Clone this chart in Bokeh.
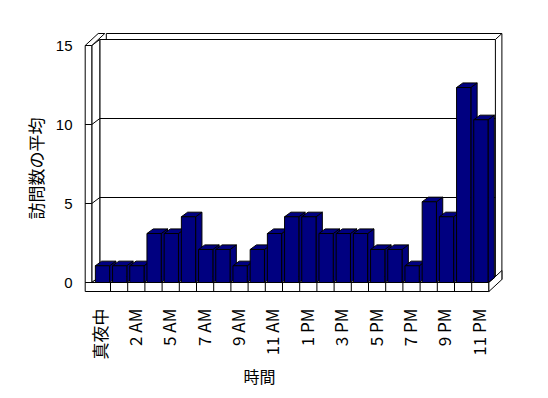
import math
from bokeh.plotting import figure
from bokeh.models import Range1d, FixedTicker, Title
from bokeh.embed import file_html
from bokeh.resources import INLINE

# ---------------- data ----------------
hours = ["真夜中", "1 AM", "2 AM", "3 AM", "5 AM", "6 AM", "7 AM", "8 AM", "9 AM",
         "10 AM", "11 AM", "正午", "1 PM", "2 PM", "3 PM", "4 PM", "5 PM", "6 PM",
         "7 PM", "8 PM", "9 PM", "10 PM", "11 PM"]
visits = [1.06, 1.06, 1.06, 3.1, 3.1, 4.16, 2.09, 2.09, 1.06, 2.09, 3.1, 4.16,
          4.16, 3.1, 3.1, 3.1, 2.09, 2.09, 1.06, 5.11, 4.16, 12.34, 10.3]
y_ticks = [0, 5, 10, 15]
y_max = 15
label_every = 2
x_title = "時間"
y_title = "訪問数の平均"

# ---------------- style / geometry (pixels) ----------------
FRAME_W, FRAME_H = 426, 265
PXC = 17.2          # px per category
PXV = 15.8          # px per value unit
X_OFF = 12.8        # frame left -> first category
Y_TOP = 252         # frame top -> value 0
NAVY = "#000080"

n = len(hours)
dx, dy = 6.5 / PXC, 6.0 / PXV          # wall depth
bdx, bdy = 6.3 / PXC, 4.6 / PXV        # bar depth
fb = -9.0 / PXV                        # floor bottom
xl, xr = -8.1 / PXC, -1.5 / PXC        # side wall front face
bl, br = 0.12, 0.95                    # bar front face inside category

p = figure(frame_width=FRAME_W, frame_height=FRAME_H,
           x_range=Range1d(-X_OFF / PXC, (FRAME_W - X_OFF) / PXC),
           y_range=Range1d(-(FRAME_H - Y_TOP) / PXV, Y_TOP / PXV),
           output_backend="svg", toolbar_location=None,
           min_border_left=80, min_border_right=32,
           min_border_top=30, min_border_bottom=95)
p.grid.visible = False
p.outline_line_color = None
p.background_fill_color = "white"
p.border_fill_color = "white"

W = dict(fill_color="white", line_color="black", line_width=1)

# back wall (outer, inner)
p.patches([[2 * dx, n + 2 * dx, n + 2 * dx, 2 * dx]],
          [[fb + 2 * dy, fb + 2 * dy, y_max + 2 * dy, y_max + 2 * dy]], **W)
p.patches([[dx, n + dx, n + dx, dx]],
          [[dy, dy, y_max + dy, y_max + dy]], **W)
p.multi_line([[n + dx, n + 2 * dx]], [[y_max + dy, y_max + 2 * dy]],
             line_color="black", line_width=1)
# side wall inner face and top face
p.patches([[xr, xr, dx, dx]], [[0, y_max, y_max + dy, dy]], **W)
p.patches([[xl, xr, xr + 2 * dx, xl + 2 * dx]],
          [[y_max, y_max, y_max + 2 * dy, y_max + 2 * dy]], **W)
# floor top
p.patches([[xr, n, n + dx, dx]], [[0, 0, dy, dy]], **W)
# gridlines
grid_vals = [v for v in y_ticks if 0 < v < y_max]
p.multi_line([[dx, n + dx] for v in grid_vals], [[v + dy, v + dy] for v in grid_vals],
             line_color="black", line_width=1)
p.multi_line([[xr, dx] for v in grid_vals], [[v, v + dy] for v in grid_vals],
             line_color="black", line_width=1)
# side wall front face
p.patches([[xl, xr, xr, xl]], [[0, 0, y_max, y_max]], **W)
p.multi_line([[xl, xr] for v in grid_vals], [[v, v] for v in grid_vals],
             line_color="black", line_width=1)
# floor front band + right face
p.patches([[xl, n, n, xl]], [[fb, fb, 0, 0]], **W)
p.patches([[n, n, n + 2 * dx, n + 2 * dx]], [[fb, 0, 2 * dy, fb + 2 * dy]], **W)
p.multi_line([[i, i] for i in range(1, n)], [[fb, 0] for i in range(1, n)],
             line_color="black", line_width=1)

# bars (side, top, front per bar)
xs, ys = [], []
for i, v in enumerate(visits):
    L, R = i + bl, i + br
    xs.append([R, R, R + bdx, R + bdx]); ys.append([0, v, v + bdy, bdy])
    xs.append([L, R, R + bdx, L + bdx]); ys.append([v, v, v + bdy, v + bdy])
    xs.append([L, R, R, L]); ys.append([0, 0, v, v])
p.patches(xs, ys, fill_color=NAVY, line_color="black", line_width=1)

# axes
LABEL_SHIFT = -2 / PXC
xt = [i + 0.5 + LABEL_SHIFT for i in range(0, n, label_every)]
p.xaxis.ticker = FixedTicker(ticks=xt)
p.xaxis.major_label_overrides = {t: hours[i] for t, i in zip(xt, range(0, n, label_every))}
p.xaxis.major_label_orientation = math.pi / 2
p.yaxis.ticker = FixedTicker(ticks=y_ticks)
for ax in (p.xaxis[0], p.yaxis[0]):
    ax.axis_line_color = None
    ax.major_tick_line_color = None
    ax.minor_tick_line_color = None
    ax.major_tick_out = 0
    ax.major_tick_in = 0
    ax.major_label_text_color = "black"
p.yaxis.major_label_standoff = 8
p.xaxis.major_label_standoff = 13
p.xaxis.major_label_text_font = "Noto Sans CJK JP"
p.xaxis.major_label_text_font_size = "17px"
p.yaxis.major_label_text_font = "Liberation Sans"
p.yaxis.major_label_text_font_size = "15px"

# axis titles
p.add_layout(Title(text=x_title, align="left", offset=163, standoff=-2,
                   text_font_size="16px", text_font="Noto Sans CJK JP",
                   text_font_style="normal", text_color="black"), "below")
p.add_layout(Title(text=y_title, align="left", offset=76, standoff=10,
                   text_font_size="17px", text_font="Noto Sans CJK JP",
                   text_font_style="normal", text_color="black"), "left")

open("out.html", "w").write(file_html(p, INLINE))
